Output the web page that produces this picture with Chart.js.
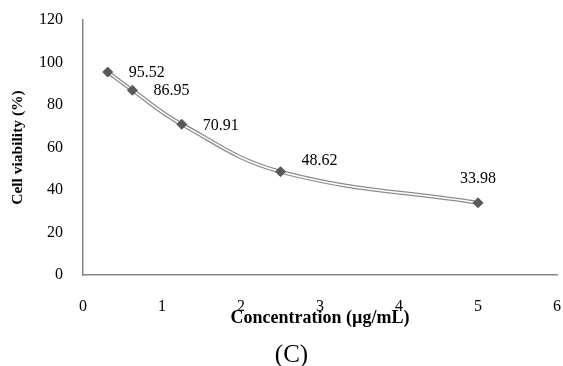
<!DOCTYPE html>
<html>
<head>
<meta charset="utf-8">
<script src="https://cdn.jsdelivr.net/npm/chart.js@4/dist/chart.umd.min.js"></script>
<style>
  html, body { margin: 0; padding: 0; background: #fff; }
  #wrap { width: 563px; height: 366px; }
</style>
</head>
<body>
<div id="wrap"><canvas id="chart" width="563" height="366"></canvas></div>
<script>
// data
const concentrations = [0.3125, 0.625, 1.25, 2.5, 5];
const viability = [95.52, 86.95, 70.91, 48.62, 33.98];
const xTicks = [0, 1, 2, 3, 4, 5, 6];
const yTicks = [0, 20, 40, 60, 80, 100, 120];
const caption = '(C)';

const points = concentrations.map((c, i) => ({ x: c, y: viability[i] }));
const serif = '"Liberation Serif", "Times New Roman", serif';

// value labels next to the markers (offsets in px) + the panel caption
const labelPlugin = {
  id: 'valueLabels',
  afterDatasetsDraw(chart) {
    const meta = chart.getDatasetMeta(0);
    const ctx = chart.ctx;
    ctx.save();
    ctx.font = '16px ' + serif;
    ctx.fillStyle = '#000';
    ctx.textBaseline = 'middle';
    meta.data.forEach((pt, i) => {
      let dx = 21, dy = 1, align = 'left';
      if (i === 3) { dx = 21; dy = -11; }
      if (i === 4) { dx = 0; dy = -24; align = 'center'; }
      ctx.textAlign = align;
      ctx.fillText(viability[i].toFixed(2), pt.x + dx, pt.y + dy);
    });
    ctx.font = '25px ' + serif;
    ctx.textAlign = 'center';
    ctx.fillText(caption, chart.width / 2 + 10, 355);
    ctx.restore();
  }
};

new Chart(document.getElementById('chart'), {
  type: 'line',
  data: {
    datasets: [
      {
        // markers
        data: points,
        showLine: false,
        pointStyle: 'rectRot',
        pointRadius: 5,
        pointBackgroundColor: '#595959',
        pointBorderColor: '#595959',
        order: 0
      },
      {
        // white core of the double line
        data: points,
        borderColor: '#ffffff',
        borderWidth: 1.5,
        tension: 0.4,
        pointRadius: 0,
        order: 1
      },
      {
        data: points,
        borderColor: '#8c8c8c',
        borderWidth: 4,
        tension: 0.4,
        pointRadius: 0,
        order: 2
      }
    ]
  },
  options: {
    responsive: false,
    animation: false,
    layout: { padding: { top: 20, right: 3, left: 0, bottom: 0 } },
    plugins: {
      legend: { display: false },
      tooltip: { enabled: false }
    },
    scales: {
      x: {
        type: 'linear',
        min: 0,
        max: 6,
        afterBuildTicks: s => { s.ticks = xTicks.map(v => ({ value: v })); },
        afterFit: s => { s.height = 91; s.paddingLeft = 0; s.paddingRight = 0; },
        grid: { drawOnChartArea: false, drawTicks: false },
        border: { display: true, color: '#868686', width: 1.5 },
        ticks: { color: '#000', padding: 22, font: { family: serif, size: 16 } },
        title: {
          display: true,
          text: 'Concentration (µg/mL)',
          color: '#000',
          font: { family: serif, size: 18, weight: 'bold' },
          padding: { top: 0, bottom: 37 }
        }
      },
      y: {
        min: 0,
        max: 120,
        afterBuildTicks: s => { s.ticks = yTicks.map(v => ({ value: v })); },
        afterFit: s => { s.width = 83; s.paddingTop = 0; s.paddingBottom = 0; },
        grid: { drawOnChartArea: false, drawTicks: false },
        border: { display: true, color: '#868686', width: 1.5 },
        ticks: { color: '#000', padding: 20, font: { family: serif, size: 16 } },
        title: {
          display: true,
          text: 'Cell viability (%)',
          color: '#000',
          font: { family: serif, size: 15.5, weight: 'bold' },
          padding: { top: 9, bottom: 0 }
        }
      }
    }
  },
  plugins: [labelPlugin]
});
</script>
</body>
</html>
